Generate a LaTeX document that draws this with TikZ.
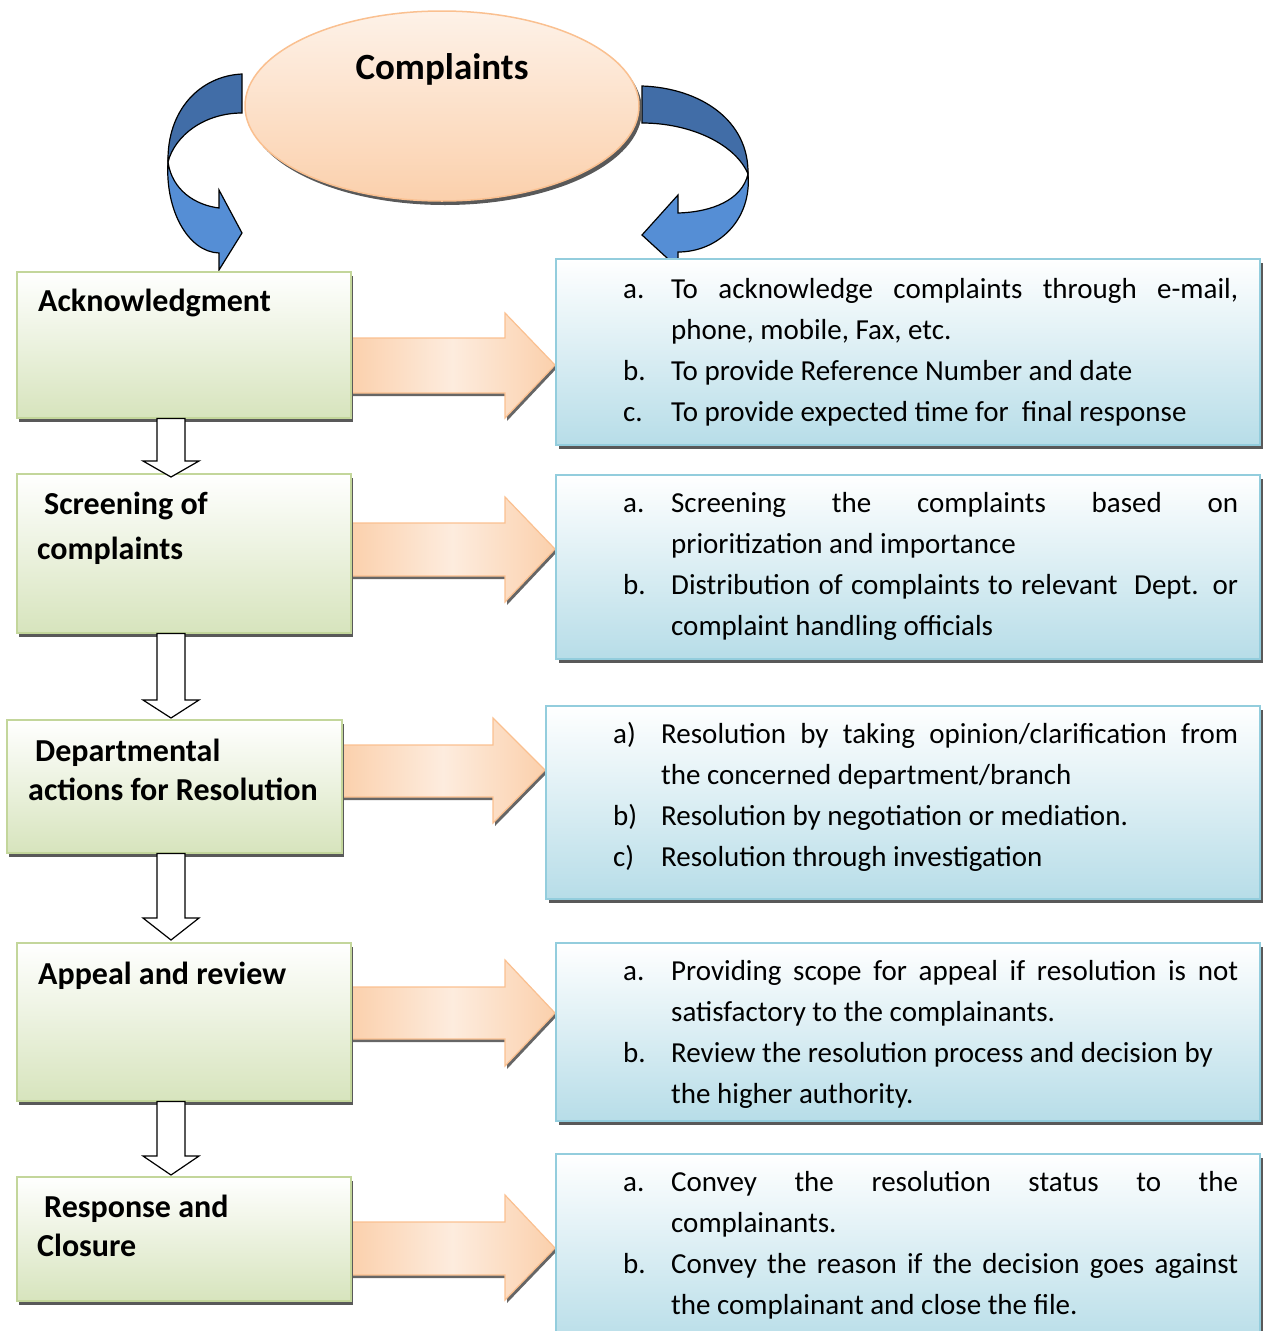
\documentclass[tikz,border=0pt]{standalone}
\usepackage{fontspec}
\setmainfont{Carlito}
\usetikzlibrary{shapes.geometric,shadows,calc,positioning}
\definecolor{boxgreen}{RGB}{215,228,189}
\definecolor{linegreen}{RGB}{195,214,155}
\definecolor{boxblue}{RGB}{183,221,232}
\definecolor{lineblue}{RGB}{147,205,221}
\definecolor{peach}{RGB}{251,208,172}
\definecolor{peachlight}{RGB}{253,236,222}
\definecolor{lineorange}{RGB}{250,192,144}
\definecolor{darkblue}{RGB}{65,109,167}
\definecolor{lightblue}{RGB}{85,142,213}
\newcommand{\jitem}[3][567pt]{\makebox[48pt][l]{#2}\makebox[#1][s]{#3}}
\newcommand{\ritem}[2]{\makebox[48pt][l]{#1}#2}
\newcommand{\cont}[1]{\hspace*{48pt}#1}

\begin{document}
\begin{tikzpicture}
[x=1pt,y=-1pt,
greenbox/.style={draw=linegreen,line width=1.5pt,top color=white,bottom color=boxgreen,minimum width=334pt,anchor=north west,inner sep=0pt,drop shadow={shadow xshift=2pt,shadow yshift=-4pt,fill=black!65,opacity=1}},
bluebox/.style={draw=lineblue,line width=1.5pt,top color=white,bottom color=boxblue,minimum width=704pt,anchor=north west,inner sep=0pt,drop shadow={shadow xshift=3pt,shadow yshift=-4pt,fill=black!65,opacity=1}},
title/.style={font=\fontsize{32}{39}\selectfont\bfseries,anchor=base west,inner sep=0pt,align=left},
itemtext/.style={font=\fontsize{29}{41}\selectfont,anchor=base west,inner sep=0pt,align=left},
fatarrow/.style={draw=lineorange,line width=1.2pt,left color=peach,right color=peach,middle color=peachlight,drop shadow={shadow xshift=2pt,shadow yshift=-3pt,fill=black!60,opacity=1}},
downarrow/.style={draw=black,line width=1.2pt,fill=white},
ribbondark/.style={draw=black,line width=1.2pt,fill=darkblue},
ribbonlight/.style={draw=black,line width=1.2pt,fill=lightblue}]
\useasboundingbox (0,0) rectangle (1269,1331);

% curved arrows round the ellipse
\draw[ribbondark] (242,74) .. controls (200,76) and (167,110) .. (168,162) .. controls (175,135) and (205,113) .. (242,113) -- cycle;
\draw[ribbonlight] (168,162) .. controls (165,210) and (188,252) .. (219,253) -- (219,270) -- (242,233) -- (219,190) -- (219,208) .. controls (195,205) and (172,190) .. (168,162) -- cycle;
\draw[ribbondark] (642,86) .. controls (700,88) and (749,120) .. (748,174) .. controls (736,145) and (692,123) .. (642,123) -- cycle;
\draw[ribbonlight] (748,174) .. controls (752,220) and (718,252) .. (678,252) -- (678,268) -- (642,235) -- (678,195) -- (678,213) .. controls (712,212) and (742,200) .. (748,174) -- cycle;

\node[ellipse,draw=lineorange,line width=1.5pt,top color=peachlight!70!white,bottom color=peach,minimum width=394pt,minimum height=190pt,drop shadow={shadow xshift=3pt,shadow yshift=-4pt,fill=black!65,opacity=1}] (cmp) at (442,106) {};
\node[font=\fontsize{37}{44}\selectfont\bfseries,anchor=base,inner sep=0pt] (cmptxt) at (442,79) {Complaints};

% fat arrows
\draw[fatarrow] (350,338) -- (505,338) -- (505,313) -- (555,365) -- (505,418) -- (505,393) -- (350,393) -- cycle;
\draw[fatarrow] (350,523) -- (505,523) -- (505,497) -- (555,549) -- (505,602) -- (505,576) -- (350,576) -- cycle;
\draw[fatarrow] (341,745) -- (493,745) -- (493,718) -- (545,770) -- (493,823) -- (493,797) -- (341,797) -- cycle;
\draw[fatarrow] (350,987) -- (505,987) -- (505,960) -- (555,1013) -- (505,1066) -- (505,1039) -- (350,1039) -- cycle;
\draw[fatarrow] (350,1222) -- (505,1222) -- (505,1195) -- (555,1248) -- (505,1300) -- (505,1275) -- (350,1275) -- cycle;

% steps
\node[greenbox,minimum height=146pt] (ack) at (16,271) {};
\node[greenbox,minimum height=159pt] (scr) at (16,473) {};
\node[greenbox,minimum width=335pt,minimum height=133pt] (dep) at (6,719) {};
\node[greenbox,minimum height=158pt] (app) at (16,942) {};
\node[greenbox,minimum height=124pt] (rsp) at (16,1176) {};

\node[title] (acktxt) at (38,311) {Acknowledgment};
\node[title] (scrtxt) at (37,559) {\hspace*{7pt}Screening of\\[6pt]complaints};
\node[title] (deptxt) at (28,800) {\hspace*{7pt}Departmental\\actions for Resolution};
\node[title] (apptxt) at (38,984) {Appeal and review};
\node[title] (rsptxt) at (37,1256) {\hspace*{7pt}Response and\\Closure};

% actions
\node[bluebox,minimum height=186pt] (acta) at (555,258) {};
\node[bluebox,minimum height=184pt] (actb) at (555,474) {};
\node[bluebox,minimum width=714pt,minimum height=193pt] (actc) at (545,705) {};
\node[bluebox,minimum height=178pt] (actd) at (555,942) {};
\node[bluebox,minimum height=192pt] (acte) at (555,1153) {};

\node[itemtext] (actatxt) at (623,421) {\jitem{a.}{To acknowledge complaints through e-mail,}\\\cont{phone, mobile, Fax, etc.}\\\ritem{b.}{To provide Reference Number and date}\\\ritem{c.}{To provide expected time for \ final response}};
\node[itemtext] (actbtxt) at (623,635) {\jitem{a.}{Screening the complaints based on}\\\cont{prioritization and importance}\\\jitem{b.}{Distribution of complaints to relevant \ Dept. or}\\\cont{complaint handling officials}};
\node[itemtext] (actctxt) at (613,866) {\jitem[577pt]{a)}{Resolution by taking opinion/clarification from}\\\cont{the concerned department/branch}\\\ritem{b)}{Resolution by negotiation or mediation.}\\\ritem{c)}{Resolution through investigation}};
\node[itemtext] (actdtxt) at (623,1103) {\jitem{a.}{Providing scope for appeal if resolution is not}\\\cont{satisfactory to the complainants.}\\\ritem{b.}{Review the resolution process and decision by}\\\cont{the higher authority.}};
\node[itemtext] (actetxt) at (623,1314) {\jitem{a.}{Convey the resolution status to the}\\\cont{complainants.}\\\jitem{b.}{Convey the reason if the decision goes against}\\\cont{the complainant and close the file.}};

% down arrows
\draw[downarrow] (157,0 |- ack.south) -- (157,461) -- (143,461) -- (171,477) -- (199,461) -- (185,461) -- (185,0 |- ack.south) -- cycle;
\draw[downarrow] (157,0 |- scr.south) -- (157,700) -- (143,700) -- (171,718) -- (199,700) -- (185,700) -- (185,0 |- scr.south) -- cycle;
\draw[downarrow] (157,0 |- dep.south) -- (157,918) -- (143,918) -- (171,940) -- (199,918) -- (185,918) -- (185,0 |- dep.south) -- cycle;
\draw[downarrow] (157,0 |- app.south) -- (157,1156) -- (143,1156) -- (171,1175) -- (199,1156) -- (185,1156) -- (185,0 |- app.south) -- cycle;
\end{tikzpicture}
\end{document}
